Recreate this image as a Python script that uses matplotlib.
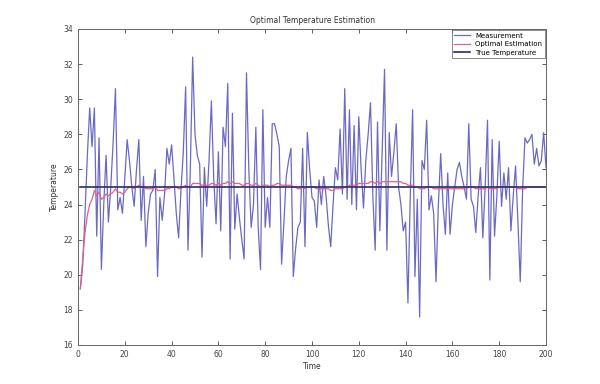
import matplotlib
matplotlib.use("Agg")
import matplotlib.pyplot as plt
import numpy as np

# time steps
time = np.arange(1, 201)

measurement = [
    19.2, 20.5, 23.5, 26.8, 29.5, 27.3, 29.5, 22.2, 27.8, 20.3,
    24.0, 26.8, 23.0, 25.0, 27.5, 30.6, 23.7, 24.4, 23.5, 25.5,
    27.7, 26.5, 25.0, 23.9, 26.0, 27.7, 23.1, 25.6, 21.6, 23.5,
    24.6, 24.8, 26.0, 19.9, 24.4, 23.1, 24.6, 27.2, 26.3, 27.4,
    25.5, 23.5, 22.1, 24.8, 27.0, 30.7, 21.4, 26.0, 32.4, 28.0,
    26.8, 26.3, 21.0, 26.1, 23.9, 26.5, 29.9, 25.5, 22.9, 27.0,
    22.5, 28.4, 27.3, 30.9, 20.9, 29.2, 22.6, 24.6, 23.2, 22.0,
    20.9, 31.5, 26.0, 22.7, 24.0, 28.4, 22.7, 20.3, 29.4, 22.7,
    24.4, 22.7, 28.6, 28.6, 28.0, 27.3, 20.6, 23.0, 25.6, 26.5,
    27.2, 19.9, 21.5, 22.7, 23.0, 27.2, 21.6, 28.1, 26.0, 24.4,
    24.2, 22.7, 25.4, 24.0, 25.6, 24.5, 22.8, 21.6, 24.0, 26.1,
    25.4, 28.3, 24.6, 30.6, 24.3, 29.4, 24.0, 28.5, 23.7, 29.0,
    26.0, 23.8, 26.5, 28.0, 29.8, 24.5, 21.4, 28.7, 22.5, 27.0,
    31.7, 21.4, 28.1, 25.6, 27.0, 28.6, 25.0, 24.0, 22.5, 23.0,
    18.4, 24.5, 29.4, 19.9, 24.3, 17.6, 26.5, 26.0, 28.8, 23.7,
    24.5, 23.5, 19.6, 24.0, 26.9, 24.0, 22.3, 25.8, 22.3, 24.0,
    25.0, 26.0, 26.4, 25.6, 25.0, 24.3, 28.6, 24.3, 23.9, 22.4,
    24.5, 26.1, 22.1, 25.0, 28.8, 19.7, 27.7, 22.2, 24.5, 27.6,
    23.9, 25.8, 24.3, 26.1, 22.5, 24.5, 26.2, 23.0, 19.6, 24.8,
    27.8, 27.5, 27.7, 28.0, 26.3, 27.2, 26.2, 26.5, 28.1, 26.1,
]

# filter output
estimate = [
    19.2, 20.9, 22.4, 23.4, 24.0, 24.3, 24.8, 24.5, 24.7, 24.3,
    24.4, 24.6, 24.5, 24.6, 24.7, 24.9, 24.7, 24.7, 24.6, 24.7,
    24.9, 25.0, 25.0, 24.9, 25.0, 25.1, 25.0, 25.0, 24.9, 24.9,
    24.9, 24.9, 25.0, 24.8, 24.8, 24.8, 24.8, 24.9, 24.9, 25.0,
    25.0, 25.0, 24.9, 24.9, 25.0, 25.1, 25.0, 25.0, 25.2, 25.2,
    25.2, 25.2, 25.1, 25.1, 25.1, 25.1, 25.2, 25.2, 25.1, 25.2,
    25.1, 25.2, 25.2, 25.3, 25.2, 25.3, 25.2, 25.2, 25.2, 25.1,
    25.1, 25.2, 25.2, 25.1, 25.1, 25.2, 25.1, 25.0, 25.1, 25.1,
    25.1, 25.0, 25.1, 25.1, 25.2, 25.2, 25.1, 25.1, 25.1, 25.1,
    25.1, 25.0, 25.0, 24.9, 24.9, 25.0, 24.9, 25.0, 25.0, 25.0,
    25.0, 24.9, 24.9, 24.9, 24.9, 24.9, 24.9, 24.8, 24.8, 24.9,
    24.9, 24.9, 24.9, 25.0, 25.0, 25.1, 25.1, 25.1, 25.1, 25.2,
    25.2, 25.2, 25.2, 25.2, 25.3, 25.3, 25.2, 25.3, 25.2, 25.3,
    25.3, 25.3, 25.3, 25.3, 25.3, 25.3, 25.3, 25.3, 25.2, 25.2,
    25.1, 25.1, 25.1, 25.0, 25.0, 24.9, 24.9, 24.9, 25.0, 25.0,
    25.0, 24.9, 24.9, 24.9, 24.9, 24.9, 24.9, 24.9, 24.9, 24.9,
    24.9, 24.9, 24.9, 24.9, 24.9, 24.9, 25.0, 25.0, 25.0, 24.9,
    24.9, 24.9, 24.9, 24.9, 25.0, 24.9, 24.9, 24.9, 24.9, 25.0,
    25.0, 25.0, 25.0, 25.0, 25.0, 25.0, 25.0, 24.9, 24.9, 24.9,
    24.9, 25.0, 25.0, 25.0, 25.0, 25.0, 25.0, 25.0, 25.0, 25.0,
]

true_temp = 25.0

fig = plt.figure(figsize=(6, 3.84), dpi=100)
ax = fig.add_axes([0.13, 0.1016, 0.78, 0.823])

ax.plot(time, measurement, color="#6a6ac4", lw=0.9, label="Measurement")
ax.plot(time, estimate, color="#e0608e", lw=0.9, label="Optimal Estimation")
ax.plot(time, [true_temp] * len(time), color="#2c2c66", lw=1.2, label="True Temperature")

ax.set_xlim(0, 200)
ax.set_ylim(16, 34)
ax.set_xticks(np.arange(0, 201, 20))
ax.set_yticks(np.arange(16, 35, 2))
ax.tick_params(direction="in", top=True, right=True, labelsize=5.5,
               length=3, width=0.6, colors="#444444")
for s in ax.spines.values():
    s.set_linewidth(0.7)
    s.set_color("#666666")

ax.set_title("Optimal Temperature Estimation", fontsize=5.5, color="#333333", pad=4)
ax.set_xlabel("Time", fontsize=5.5, color="#333333", labelpad=2)
ax.set_ylabel("Temperature", fontsize=5.5, color="#333333", labelpad=3)

leg = ax.legend(loc="upper right", fontsize=5, frameon=True, fancybox=False,
                handlelength=2.2, borderpad=0.35, labelspacing=0.35,
                borderaxespad=0.2)
leg.get_frame().set_edgecolor("#555555")
leg.get_frame().set_linewidth(0.6)

fig.savefig("out.png", dpi=100, facecolor="white")
